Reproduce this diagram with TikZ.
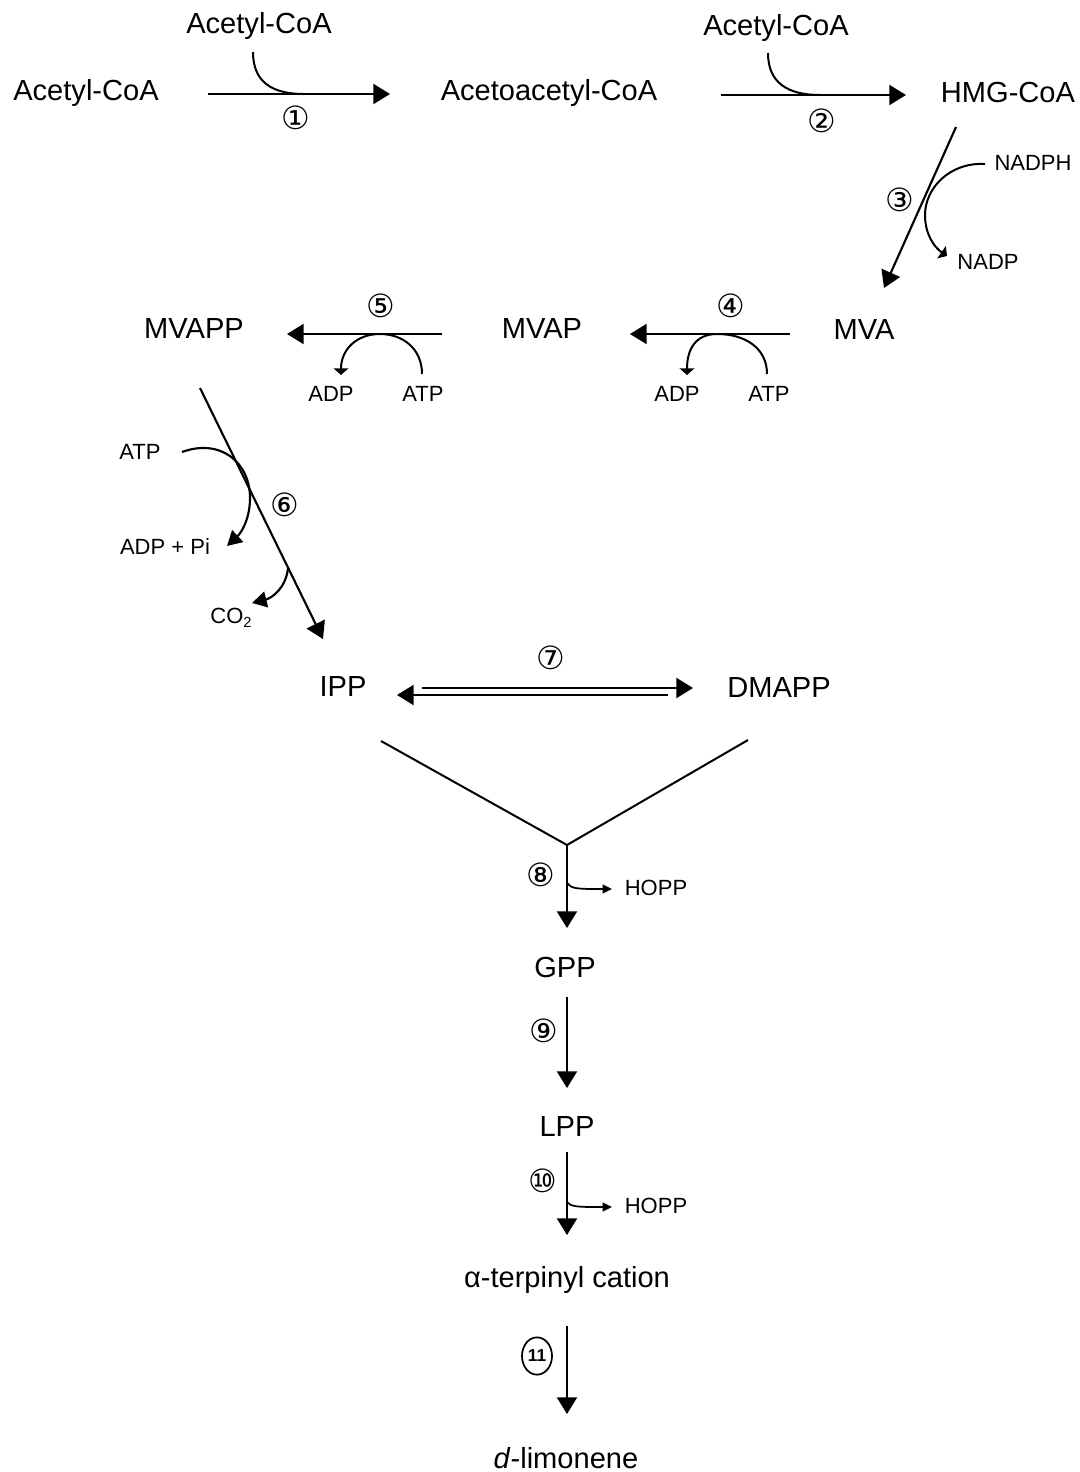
\documentclass[tikz,border=0pt]{standalone}
\usepackage{fontspec}
\setmainfont{Liberation Sans}
\newfontfamily\circfont{DejaVu Sans}
\usetikzlibrary{arrows.meta,shapes.geometric}
\begin{document}
\begin{tikzpicture}[x=0.75pt,y=-0.75pt,
  chem/.style={font=\fontsize{21.8}{24}\selectfont, inner sep=0pt},
  cofac/.style={font=\fontsize{16.5}{19}\selectfont, inner sep=0pt},
  stepno/.style={font=\circfont\fontsize{24}{26}\selectfont, inner sep=0pt},
  rxn/.style={line width=1.6pt, -{Triangle[length=12.5pt,width=15pt]}},
  sideline/.style={line width=1.5pt},
  sidetip/.style={line width=1.5pt, -{Triangle[length=5pt,width=11pt]}},
  bigtip/.style={line width=1.6pt, -{Triangle[length=11pt,width=12pt]}},
  hopptip/.style={line width=1.3pt, -{Triangle[length=7pt,width=6.5pt]}}]
\useasboundingbox (0,0) rectangle (1079,1472);

% metabolites
\node[chem] (acoa)  at (86,93)   {Acetyl-CoA};
\node[chem] (acoa1) at (259,26)  {Acetyl-CoA};
\node[chem] (aacoa) at (549,93)  {Acetoacetyl-CoA};
\node[chem] (acoa2) at (776,28)  {Acetyl-CoA};
\node[chem] (hmg)   at (1008,92) {HMG-CoA};
\node[chem] (mva)   at (864,329) {MVA};
\node[chem] (mvap)  at (542,328) {MVAP};
\node[chem] (mvapp) at (194,328) {MVAPP};
\node[chem] (ipp)   at (343,686) {IPP};
\node[chem] (dmapp) at (779,687) {DMAPP};
\node[chem] (gpp)   at (565,967) {GPP};
\node[chem] (lpp)   at (567,1126) {LPP};
\node[chem] (terp)  at (567,1280) {α-terpinyl cation};
\node[chem] (limo)  at (566,1458) {\textit{d}-limonene};

% cofactors and by-products
\node[cofac] (nadph) at (1033,163) {NADPH};
\node[cofac] (nadp)  at (988,262)  {NADP};
\node[cofac] (adp4)  at (677,394)  {ADP};
\node[cofac] (atp4)  at (769,394)  {ATP};
\node[cofac] (adp5)  at (331,394)  {ADP};
\node[cofac] (atp5)  at (423,394)  {ATP};
\node[cofac] (atp6)  at (140,452)  {ATP};
\node[cofac] (adp6)  at (165,547)  {ADP + Pi};
\node[cofac] (co2)   at (231,618)  {CO\raisebox{-0.35ex}{\fontsize{11}{12}\selectfont 2}};
\node[cofac] (hopp8) at (656,888)  {HOPP};
\node[cofac] (hopp10) at (656,1206) {HOPP};

% step numbers
\node[stepno] (s1) at (296,118) {①};
\node[stepno] (s2) at (822,121) {②};
\node[stepno] (s3) at (900,200) {③};
\node[stepno] (s4) at (731,306) {④};
\node[stepno] (s5) at (381,306) {⑤};
\node[stepno] (s6) at (285,505) {⑥};
\node[stepno] (s7) at (551,658) {⑦};
\node[stepno] (s8) at (541,875) {⑧};
\node[stepno] (s9) at (544,1031) {⑨};
\node[stepno] (s10) at (543,1181) {⑩};
\node[draw, ellipse, line width=1.3pt, inner sep=0pt,
      minimum width=22.5pt, minimum height=28pt,
      font=\fontsize{13}{14}\selectfont\bfseries] (s11) at (537,1356) {11};

% reaction end points
\coordinate (r1a) at (208,94);   \coordinate (r1b) at (390,94);
\coordinate (r2a) at (721,95);   \coordinate (r2b) at (906,95);
\coordinate (r3a) at (956,127);  \coordinate (r3b) at (884,288);
\coordinate (r4a) at (790,334);  \coordinate (r4b) at (630,334);
\coordinate (r5a) at (442,334);  \coordinate (r5b) at (287,334);
\coordinate (r6a) at (200,388);  \coordinate (r6b) at (323,639);
\coordinate (r7a) at (422,688);  \coordinate (r7b) at (693,688);
\coordinate (r7c) at (668,695);  \coordinate (r7d) at (397,695);
\coordinate (vl)  at (381,741);  \coordinate (vr)  at (748,740);
\coordinate (vm)  at (567,845);  \coordinate (r8b) at (567,928);
\coordinate (r9a) at (567,997);  \coordinate (r9b) at (567,1088);
\coordinate (r10a) at (567,1152); \coordinate (r10b) at (567,1235);
\coordinate (r11a) at (567,1326); \coordinate (r11b) at (567,1414);

% main reaction arrows
\draw[rxn] (r1a) -- (r1b);
\draw[rxn] (r2a) -- (r2b);
\draw[rxn] (r3a) -- (r3b);
\draw[rxn] (r4a) -- (r4b);
\draw[rxn] (r5a) -- (r5b);
\draw[rxn] (r6a) -- (r6b);
\draw[rxn] (r7a) -- (r7b);
\draw[rxn] (r7c) -- (r7d);
\draw[sideline] (vl) -- (vm) -- (vr);
\draw[rxn] (vm) -- (r8b);
\draw[rxn] (r9a) -- (r9b);
\draw[rxn] (r10a) -- (r10b);
\draw[rxn] (r11a) -- (r11b);

% co-substrates and co-products
\draw[sideline] (253,52) .. controls (253,82) and (272,94) .. (304,94);
\draw[sideline] (768,53) .. controls (768,83) and (788,95) .. (820,95);
\draw[sidetip] (985,164) .. controls (950,162) and (925,188) .. (925,215)
  .. controls (925,234) and (934,247) .. (947,256);
\draw[sidetip] (767,374) .. controls (767,348) and (745,334) .. (717,334)
  .. controls (695,334) and (687,350) .. (687,375);
\draw[sidetip] (422,374) .. controls (422,348) and (402,334) .. (380,334)
  .. controls (356,334) and (341,350) .. (341,375);
\draw[bigtip] (182,452) .. controls (220,438) and (250,462) .. (250,498)
  .. controls (250,518) and (242,532) .. (227,546);
\draw[bigtip] (288,568) .. controls (286,588) and (272,598) .. (252,603);
\draw[hopptip] (567,883) .. controls (571,889) and (578,889) .. (612,889);
\draw[hopptip] (567,1202) .. controls (571,1207) and (578,1207) .. (612,1207);
\end{tikzpicture}
\end{document}
